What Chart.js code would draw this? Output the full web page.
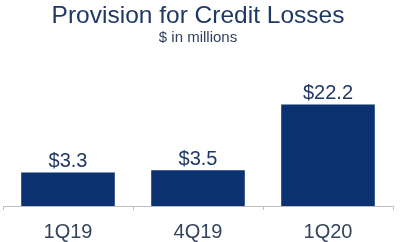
<!DOCTYPE html>
<html>
<head>
<meta charset="utf-8">
<script src="https://cdn.jsdelivr.net/npm/chart.js@4"></script>
<style>
  html, body { margin: 0; padding: 0; background: #fff; }
  #wrap { width: 400px; height: 242px; }
</style>
</head>
<body>
<div id="wrap"><canvas id="chart" width="400" height="242"></canvas></div>
<script>
const quarters = ['1Q19', '4Q19', '1Q20'];
const provision = [3.3, 3.5, 22.2];

const navy = '#0c3171';
const textBlue = '#1f3864';

// draws the "$x.x" labels on top of each bar
const valueLabels = {
  id: 'valueLabels',
  afterDatasetsDraw(chart) {
    const ctx = chart.ctx;
    const meta = chart.getDatasetMeta(0);
    ctx.save();
    ctx.font = '20px "Liberation Sans", Arial, sans-serif';
    ctx.fillStyle = textBlue;
    ctx.textAlign = 'center';
    ctx.textBaseline = 'bottom';
    meta.data.forEach((bar, i) => {
      ctx.fillText('$' + provision[i].toFixed(1), bar.x, bar.y - 1);
    });
    ctx.restore();
  }
};

new Chart(document.getElementById('chart'), {
  type: 'bar',
  data: {
    labels: quarters,
    datasets: [{
      data: provision,
      backgroundColor: navy,
      barPercentage: 0.72,
      categoryPercentage: 1
    }]
  },
  options: {
    responsive: false,
    animation: false,
    layout: { padding: { left: 3, right: 7, top: 0, bottom: 0 } },
    plugins: {
      legend: { display: false },
      tooltip: { enabled: false },
      title: {
        display: true,
        text: 'Provision for Credit Losses',
        color: textBlue,
        font: { family: '"Liberation Sans", Arial, sans-serif', size: 24.5, weight: 'normal', lineHeight: 1 },
        padding: { top: 4, bottom: 0 }
      },
      subtitle: {
        display: true,
        text: '$ in millions',
        color: '#2e3f5c',
        font: { family: '"Liberation Sans", Arial, sans-serif', size: 15 },
        padding: { top: 0, bottom: 27 }
      }
    },
    scales: {
      x: {
        afterFit(scale) { scale.height = 36; },
        grid: {
          offset: true,
          drawOnChartArea: false,
          drawTicks: true,
          tickLength: 4,
          color: '#bfbfbf'
        },
        border: { color: '#bfbfbf', width: 1 },
        ticks: {
          color: '#34445c',
          padding: 10,
          font: { family: '"Liberation Sans", Arial, sans-serif', size: 20 }
        }
      },
      y: {
        type: 'logarithmic',
        display: false,
        min: 1.29,
        max: 52.7
      }
    }
  },
  plugins: [valueLabels]
});
</script>
</body>
</html>
